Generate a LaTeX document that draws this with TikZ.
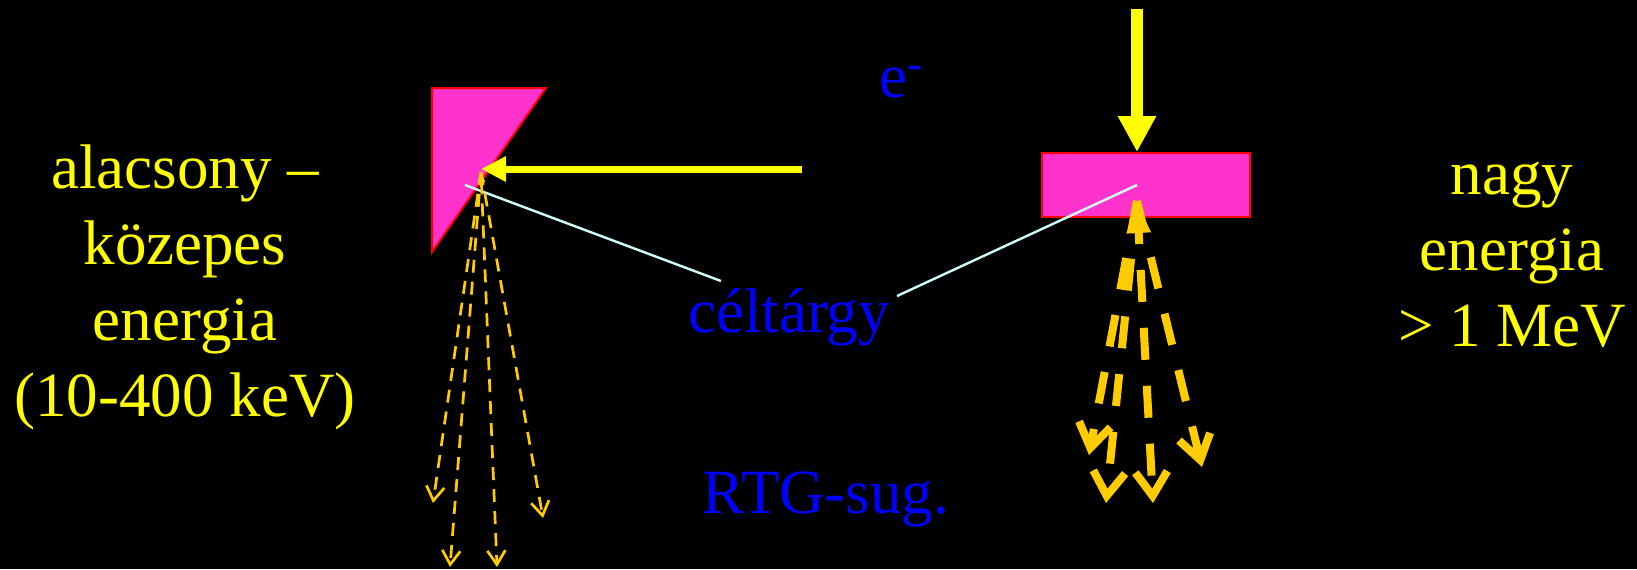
\documentclass[tikz,border=0pt]{standalone}
\usepackage{fontspec}
\setmainfont{Liberation Serif}
\usetikzlibrary{arrows.meta}

\definecolor{rtgyellow}{HTML}{FFFF00}
\definecolor{rtgorange}{HTML}{FFCC00}
\definecolor{rtgpink}{HTML}{FF33CC}
\definecolor{rtgred}{HTML}{FF0000}
\definecolor{rtgblue}{HTML}{0000FF}
\definecolor{rtgcyan}{HTML}{CCFFFF}

\tikzset{
  target/.style={fill=rtgpink, draw=rtgred, line width=1pt},
  beam/.style={draw=rtgyellow, line width=#1},
  leader/.style={draw=rtgcyan, line width=1.2pt},
  thinray/.style={draw=rtgorange, line width=1.35pt, dash pattern=on 6.5pt off 4.5pt,
    -{Straight Barb[length=7pt,width=9pt]}},
  thickray/.style={draw=rtgorange, line width=4pt, dash pattern=on 16pt off 13pt,
    -{Straight Barb[length=12pt,width=16pt]}},
  lbl/.style={font=\fontsize{31.5}{38}\selectfont, align=center, inner sep=0pt}
}

\begin{document}
\begin{tikzpicture}[x={(0.5pt,0pt)},y={(0pt,-0.5pt)}]

\fill[black] (0,0) rectangle (1637,569);
\useasboundingbox (0,0) rectangle (1637,569);

\coordinate (gunL) at (802,169);
\coordinate (hitL) at (481,169);
\coordinate (gunR) at (1137,9);
\coordinate (hitR) at (1137,152);
\coordinate (srcL) at (481,172);
\coordinate (srcR) at (1137,201);
\coordinate (spotL) at (465,185);
\coordinate (spotR) at (1137,185);

\draw[target] (432,88) -- (546,88) -- (432,252) -- cycle;
\node[target, anchor=north west, minimum width=104pt, minimum height=32pt, inner sep=0pt] (plate) at (1041,152) {};

\draw[beam=3.5pt, -{Triangle[length=12.5pt,width=12pt]}] (gunL) -- (hitL);
\draw[beam=6pt, -{Triangle[length=18pt,width=18pt]}] (gunR) -- (hitR);

\node[lbl, text=rtgyellow, anchor=base] (low) at (185,416) {alacsony –\\közepes\\energia\\(10-400 keV)};
\node[lbl, text=rtgyellow, anchor=base] (high) at (1512,346) {nagy\\energia\\> 1 MeV};
\node[lbl, text=rtgblue, anchor=base west] (elec) at (879,97) {e\textsuperscript{-}};
\node[lbl, text=rtgblue, anchor=base] (celt) at (789,332) {céltárgy};
\node[lbl, text=rtgblue, anchor=base] (rtg) at (826,513) {RTG-sug.};

\coordinate (tagL) at (721,281);
\coordinate (tagR) at (897,296);
\draw[leader] (tagL) -- (spotL);
\draw[leader] (tagR) -- (spotR);

\draw[thinray] (srcL) -- (433,503);
\draw[thinray] (srcL) -- (450,567);
\draw[thinray, {Triangle[length=5pt,width=3.5pt]}-{Straight Barb[length=7pt,width=9pt]}] (srcL) -- (497,567);
\draw[thinray] (srcL) -- (543,518);

\draw[thickray] (srcR) -- (1089,455);
\draw[thickray] (srcR) -- (1106,503);
\draw[thickray, dash phase=9.5pt, {Triangle[length=16pt,width=11pt]}-{Straight Barb[length=12pt,width=16pt]}] (srcR) -- (1153,503);
\draw[thickray] (srcR) -- (1202,467);

\end{tikzpicture}
\end{document}
